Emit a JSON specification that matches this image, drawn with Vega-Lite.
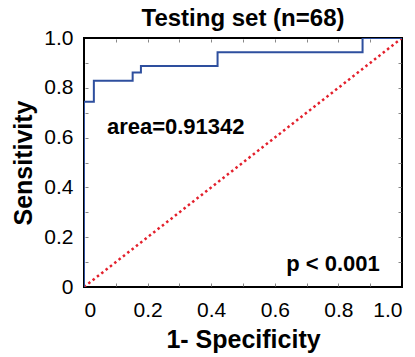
{
  "$schema": "https://vega.github.io/schema/vega-lite/v6.json",
  "width": 318,
  "height": 249,
  "autosize": "none",
  "padding": {"left": 84, "top": 38, "right": 13, "bottom": 70},
  "background": "white",
  "config": {
    "font": "Liberation Sans",
    "view": {"stroke": "black", "strokeWidth": 2},
    "axis": {"grid": false, "domain": false}
  },
  "title": {"text": "Testing set (n=68)", "fontSize": 24, "fontWeight": "bold", "anchor": "middle", "offset": -4, "color": "black"},
  "datasets": {
    "roc": [
      {"i": 0, "fpr": 0, "tpr": 0},
      {"i": 1, "fpr": 0, "tpr": 0.744},
      {"i": 2, "fpr": 0.031, "tpr": 0.744},
      {"i": 3, "fpr": 0.031, "tpr": 0.828},
      {"i": 4, "fpr": 0.153, "tpr": 0.828},
      {"i": 5, "fpr": 0.153, "tpr": 0.861},
      {"i": 6, "fpr": 0.179, "tpr": 0.861},
      {"i": 7, "fpr": 0.179, "tpr": 0.888},
      {"i": 8, "fpr": 0.42, "tpr": 0.888},
      {"i": 9, "fpr": 0.42, "tpr": 0.943},
      {"i": 10, "fpr": 0.876, "tpr": 0.943},
      {"i": 11, "fpr": 0.876, "tpr": 1.0},
      {"i": 12, "fpr": 1.0, "tpr": 1.0}
    ],
    "diag": [
      {"fpr": 0, "tpr": 0},
      {"fpr": 1, "tpr": 1}
    ],
    "notes": [
      {"fpr": 0.072, "tpr": 0.643, "label": "area=0.91342", "side": "left"},
      {"fpr": 0.93, "tpr": 0.092, "label": "p < 0.001", "side": "right"}
    ]
  },
  "layer": [
    {
      "data": {"name": "diag"},
      "mark": {"type": "line", "color": "#e3202c", "strokeWidth": 2.5, "strokeDash": [2.5, 3], "clip": true},
      "encoding": {
        "x": {
          "field": "fpr", "type": "quantitative",
          "scale": {"domain": [0, 1], "nice": false},
          "axis": {
            "values": [0, 0.2, 0.4, 0.6, 0.8, 1.0],
            "labelExpr": "datum.value == 0 ? '0' : format(datum.value, '.1f')",
            "ticks": false, "labelPadding": 12, "labelFontSize": 21, "labelColor": "black",
            "title": "1- Specificity", "titleFontSize": 25, "titleFontWeight": "bold", "titleColor": "black", "titlePadding": 7
          }
        },
        "y": {
          "field": "tpr", "type": "quantitative",
          "scale": {"domain": [0, 1], "nice": false},
          "axis": {
            "values": [0, 0.2, 0.4, 0.6, 0.8, 1.0],
            "labelExpr": "datum.value == 0 ? '0' : format(datum.value, '.1f')",
            "ticks": false, "labelPadding": 11, "labelFontSize": 21, "labelColor": "black",
            "title": "Sensitivity", "titleFontSize": 25, "titleFontWeight": "bold", "titleColor": "black", "titlePadding": 7
          }
        }
      }
    },
    {
      "data": {"name": "roc"},
      "mark": {"type": "line", "color": "#2e4f9e", "strokeWidth": 2, "clip": true},
      "encoding": {
        "x": {"field": "fpr", "type": "quantitative", "axis": {"orient": "top", "values": [0.1,0.2,0.3,0.4,0.5,0.6,0.7,0.8,0.9], "labels": false, "title": null, "ticks": true, "tickSize": 3, "offset": -4, "tickColor": "#888888", "tickWidth": 1}},
        "y": {"field": "tpr", "type": "quantitative", "axis": {"orient": "right", "values": [0.1,0.2,0.3,0.4,0.5,0.6,0.7,0.8,0.9], "labels": false, "title": null, "ticks": true, "tickSize": 3, "offset": -4, "tickColor": "#888888", "tickWidth": 1}},
        "order": {"field": "i"}
      }
    },
    {
      "data": {"name": "notes"},
      "transform": [{"filter": "datum.side == 'left'"}],
      "mark": {"type": "text", "align": "left", "baseline": "middle", "fontSize": 22, "fontWeight": "bold", "color": "black"},
      "encoding": {
        "x": {"field": "fpr", "type": "quantitative", "axis": {"orient": "bottom", "values": [0.1,0.2,0.3,0.4,0.5,0.6,0.7,0.8,0.9], "labels": false, "title": null, "ticks": true, "tickSize": 3, "offset": -4, "tickColor": "#888888", "tickWidth": 1}},
        "y": {"field": "tpr", "type": "quantitative", "axis": {"orient": "left", "values": [0.1,0.2,0.3,0.4,0.5,0.6,0.7,0.8,0.9], "labels": false, "title": null, "ticks": true, "tickSize": 3, "offset": -4, "tickColor": "#888888", "tickWidth": 1}},
        "text": {"field": "label"}
      }
    },
    {
      "data": {"name": "notes"},
      "transform": [{"filter": "datum.side == 'right'"}],
      "mark": {"type": "text", "align": "right", "baseline": "middle", "fontSize": 22, "fontWeight": "bold", "color": "black"},
      "encoding": {
        "x": {"field": "fpr", "type": "quantitative", "axis": null},
        "y": {"field": "tpr", "type": "quantitative", "axis": null},
        "text": {"field": "label"}
      }
    }
  ],
  "resolve": {"scale": {"x": "shared", "y": "shared"}, "axis": {"x": "independent", "y": "independent"}}
}
